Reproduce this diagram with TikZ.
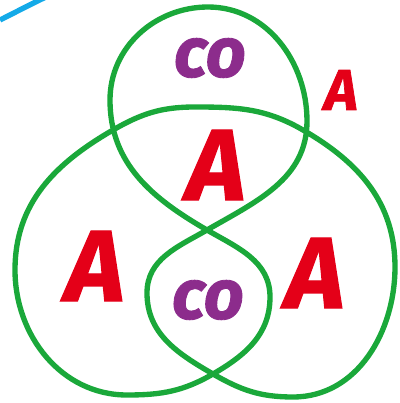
\documentclass[tikz,border=0pt]{standalone}
\usepackage{fontspec}
\usepackage{tikz}
\usetikzlibrary{positioning}
\newfontfamily\letterfont[BoldItalicFeatures={FakeBold=1.2}]{Fira Sans}
\definecolor{mygreen}{RGB}{26,168,58}
\definecolor{myred}{RGB}{228,0,24}
\definecolor{mypurple}{RGB}{140,44,140}
\definecolor{myblue}{RGB}{20,170,232}

\begin{document}
\begin{tikzpicture}[x=0.025cm, y=0.025cm,
    loopline/.style={draw=mygreen, line width=3.8pt, line join=round},
    biga/.style={text=myred, inner sep=0pt,
      font=\letterfont\bfseries\itshape\fontsize{72pt}{72pt}\selectfont},
    smalla/.style={text=myred, inner sep=0pt,
      font=\letterfont\bfseries\itshape\fontsize{41pt}{41pt}\selectfont},
    cotext/.style={text=mypurple, inner sep=0pt,
      font=\letterfont\bfseries\itshape\fontsize{50pt}{50pt}\selectfont}]
  \useasboundingbox (0,0) rectangle (400,403);

  % crossings and turning points of the green line
  \coordinate (mid) at (207,173);
  \coordinate (bot) at (213,29);
  \coordinate (lcross) at (113,273);
  \coordinate (rcross) at (303,273);
  \coordinate (toptop) at (208,396);
  \coordinate (topl) at (110,303);
  \coordinate (topr) at (307,282);
  \coordinate (smalll) at (147,110);
  \coordinate (smallr) at (270,106);
  \coordinate (arctop) at (195,296);
  \coordinate (leftl) at (15,133);
  \coordinate (leftb) at (127,8);
  \coordinate (rightr) at (395,136);
  \coordinate (rightb) at (293,6);

  \draw[loopline] (bot) to[out=30, in=270] (smallr)
    to[out=90, in=-30] (mid)
    to[out=150, in=270] (topl)
    to[out=90, in=180] (toptop)
    to[out=0, in=90] (topr)
    to[out=270, in=30] (mid)
    to[out=210, in=90] (smalll)
    to[out=270, in=150] (bot)
    to[out=330, in=180] (rightb)
    to[out=0, in=270] (rightr)
    to[out=90, in=-30] (rcross)
    to[out=150, in=0] (arctop)
    to[out=180, in=30] (lcross)
    to[out=210, in=90] (leftl)
    to[out=270, in=180] (leftb)
    to[out=0, in=210] cycle;

  \coordinate (bluea) at (0,383);
  \coordinate (blueb) at (46,406);
  \draw[myblue, line width=3.8pt] (bluea) .. controls (16,391) and (31,399) .. (blueb);

  \node[cotext] (cotop) at (210,345) {co};
  \node[cotext] (cobot) at (208,103) {co};
  \node[biga] (amid) at (216,238) {A};
  \node[biga] (aleft) at (95,137) {A};
  \node[biga] (aright) at (315,130) {A};
  \node[smalla] (aout) at (341,313) {A};
\end{tikzpicture}
\end{document}
